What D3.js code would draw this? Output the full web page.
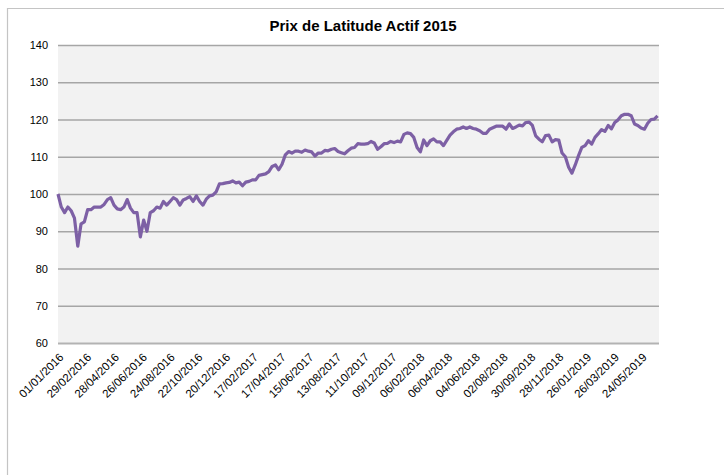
<!DOCTYPE html>
<html>
<head>
<meta charset="utf-8">
<script src="https://cdn.jsdelivr.net/npm/d3@7"></script>
<style>
  body { margin: 0; background: #fff; }
  svg { display: block; font-family: "Liberation Sans", Arial, sans-serif; }
</style>
</head>
<body>
<svg id="chart" width="724" height="475"></svg>
<script>
const title = "Prix de Latitude Actif 2015";

// weekly values starting 01/01/2016
const startDate = "01/01/2016";
const endDate = "01/07/2019";
const prices = [
  100, 96.5, 95, 96.5, 95.5, 93.5, 86, 92, 92.5, 95.8,
  95.8, 96.5, 96.5, 96.5, 97.2, 98.5, 99, 97, 96, 95.8,
  96.5, 98.5, 96.2, 95, 95, 88.5, 93, 90, 95, 95.5,
  96.5, 96.2, 98, 97, 98, 99, 98.5, 97, 98.4, 98.8,
  99.3, 98, 99.5, 98, 97, 98.6, 99.5, 99.7, 100.6, 102.7,
  102.8, 103, 103.1, 103.5, 103, 103.2, 102.2, 103.2, 103.4, 103.8,
  103.8, 105, 105.2, 105.4, 106, 107.4, 107.8, 106.5, 108, 110.5,
  111.4, 111, 111.5, 111.5, 111.2, 111.8, 111.5, 111.3, 110.2, 111,
  111, 111.7, 111.6, 112, 112.2, 111.4, 111.1, 110.8, 111.6, 112.3,
  112.5, 113.5, 113.4, 113.4, 113.5, 114.1, 113.7, 112, 112.7, 113.5,
  113.6, 114.1, 113.8, 114.2, 114, 116, 116.4, 116.2, 115.2, 112.5,
  111.3, 114.5, 113, 114.3, 114.8, 114, 114, 113, 114.4, 115.8,
  116.7, 117.4, 117.6, 118, 117.6, 118, 117.6, 117.4, 117, 116.3,
  116.3, 117.4, 117.8, 118.2, 118.2, 118.2, 117.4, 118.8, 117.6, 118,
  118.5, 118.3, 119.2, 119.3, 118.4, 115.6, 114.7, 114, 115.7, 115.8,
  114, 114.6, 114.5, 111, 110, 107.2, 105.6, 107.8, 110.3, 112.5,
  113, 114.3, 113.4, 115.2, 116.2, 117.3, 116.8, 118.4, 117.5, 119.2,
  119.9, 121, 121.4, 121.4, 121, 118.8, 118.4, 117.7, 117.4, 119,
  120, 120.1, 121
];

const xTickLabels = [
  "01/01/2016", "29/02/2016", "28/04/2016", "26/06/2016", "24/08/2016",
  "22/10/2016", "20/12/2016", "17/02/2017", "17/04/2017", "15/06/2017",
  "13/08/2017", "11/10/2017", "09/12/2017", "06/02/2018", "06/04/2018",
  "04/06/2018", "02/08/2018", "30/09/2018", "28/11/2018", "26/01/2019",
  "26/03/2019", "24/05/2019"
];
const yTicks = [60, 70, 80, 90, 100, 110, 120, 130, 140];

const parse = d3.timeParse("%d/%m/%Y");
const fmt = d3.timeFormat("%d/%m/%Y");

const svg = d3.select("#chart");
const width = +svg.attr("width");
const height = +svg.attr("height");

const margin = { top: 45, left: 58, right: 65, bottom: 132 };
const innerWidth = width - margin.left - margin.right;
const innerHeight = height - margin.top - margin.bottom;

const data = prices.map((v, i) => ({
  date: d3.timeWeek.offset(parse(startDate), i),
  value: v,
}));

// outer chart frame, only the left and top edges are in view
svg.append("path")
  .attr("d", `M7.5,${height} V8.5 H${width}`)
  .attr("fill", "none")
  .attr("stroke", "#c4c4c4")
  .attr("stroke-width", 1.2);

svg.append("text")
  .attr("x", 363)
  .attr("y", 31)
  .attr("text-anchor", "middle")
  .attr("font-weight", "bold")
  .attr("font-size", 15)
  .attr("fill", "#000")
  .text(title);

const xScale = d3.scaleTime()
  .domain([parse(startDate), parse(endDate)])
  .range([0, innerWidth]);

const yScale = d3.scaleLinear()
  .domain([60, 140])
  .range([innerHeight, 0]);

const chart = svg.append("g")
  .attr("transform", `translate(${margin.left},${margin.top})`);

chart.append("rect")
  .attr("width", innerWidth)
  .attr("height", innerHeight)
  .attr("fill", "#f2f2f2");

const yAxis = d3.axisLeft(yScale)
  .tickValues(yTicks)
  .tickSize(-innerWidth)
  .tickPadding(10);

chart.append("g")
  .attr("class", "y-axis")
  .call(yAxis)
  .call((g) => g.select(".domain").remove())
  .call((g) => g.selectAll(".tick line")
    .attr("stroke", (d) => (d === 60 ? "#b3b3b3" : "#a6a6a6"))
    .attr("stroke-width", (d) => (d === 60 ? 2 : 1.3)))
  .call((g) => g.selectAll(".tick text")
    .attr("font-size", 11)
    .attr("font-family", "Liberation Sans, Arial, sans-serif")
    .attr("fill", "#000"));

const xAxis = d3.axisBottom(xScale)
  .tickValues(xTickLabels.map(parse))
  .tickFormat(fmt)
  .tickSize(0);

chart.append("g")
  .attr("class", "x-axis")
  .attr("transform", `translate(0,${innerHeight})`)
  .call(xAxis)
  .call((g) => g.select(".domain").remove())
  .call((g) => g.selectAll(".tick text")
    .attr("font-size", 11.5)
    .attr("font-family", "Liberation Sans, Arial, sans-serif")
    .attr("fill", "#000")
    .attr("text-anchor", "end")
    .attr("dy", "0.35em")
    .attr("transform", "translate(3,12) rotate(-45)")
    .attr("y", 0)
    .attr("x", 0));

const line = d3.line()
  .x((d) => xScale(d.date))
  .y((d) => yScale(d.value));

chart.append("path")
  .datum(data)
  .attr("fill", "none")
  .attr("stroke", "#7d60a5")
  .attr("stroke-width", 3.2)
  .attr("stroke-linejoin", "round")
  .attr("d", line);
</script>
</body>
</html>
